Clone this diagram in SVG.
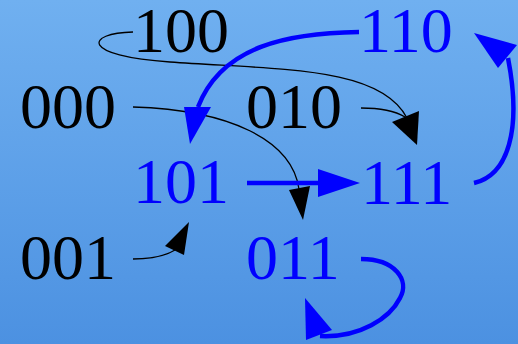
<svg xmlns="http://www.w3.org/2000/svg" width="518" height="344" viewBox="0 0 518 344">
<defs>
<linearGradient id="bg" x1="0" y1="0" x2="0" y2="1">
<stop offset="0" stop-color="#70b0f0"/>
<stop offset="1" stop-color="#4c91e1"/>
</linearGradient>
<style>
text{font-family:"Liberation Serif","Times New Roman",serif;font-size:64px}
.k{fill:#000}
.b{fill:#0000ff}
.thin{fill:none;stroke:#000;stroke-width:1.3}
.thick{fill:none;stroke:#0000ff;stroke-width:4.5}
.hk{fill:#000;stroke:none}
.hb{fill:#0000ff;stroke:none}
</style>
</defs>
<rect width="518" height="344" fill="url(#bg)"/>
<g id="connectors">
<path class="thin" d="M133,32 C85,33 80,56 170,62 C280,70 380,66 407,118"/>
<path class="thin" d="M361,108 C380,108 395,111 405,117"/>
<polygon class="hk" points="392,122 419,111 417,145"/>
<path class="thin" d="M133,107 C230,110 292,140 299,189"/>
<polygon class="hk" points="289,190 310,186 303,220"/>
<path class="thin" d="M133,259 C150,259 165,256 175,250"/>
<polygon class="hk" points="165,246 184,255 189,222"/>
<path class="thick" d="M359,32 C290,33 222,45 198,107"/>
<polygon class="hb" points="184,107 211,107 190,144"/>
<path class="thick" d="M247,183 L320,183"/>
<polygon class="hb" points="318,169 318,197 360,183"/>
<path class="thick" d="M474,183 C508,175 522,130 508,58"/>
<polygon class="hb" points="498,68 517,45 474,33"/>
<path class="thick" d="M361,259 C395,259 410,280 400,298 C390,318 360,338 320,336"/>
<polygon class="hb" points="306,340 332,330 305,298"/>
</g>
<g id="n100"><text class="k" x="133" y="52">100</text></g>
<g id="n110"><text class="b" x="359" y="52">110</text></g>
<g id="n000"><text class="k" x="20" y="128">000</text></g>
<g id="n010"><text class="k" x="246" y="128">010</text></g>
<g id="n101"><text class="b" x="133" y="203">101</text></g>
<g id="n111"><text class="b" x="361" y="204">111</text></g>
<g id="n001"><text class="k" x="20" y="279">001</text></g>
<g id="n011"><text class="b" x="246" y="279">011</text></g>
</svg>
